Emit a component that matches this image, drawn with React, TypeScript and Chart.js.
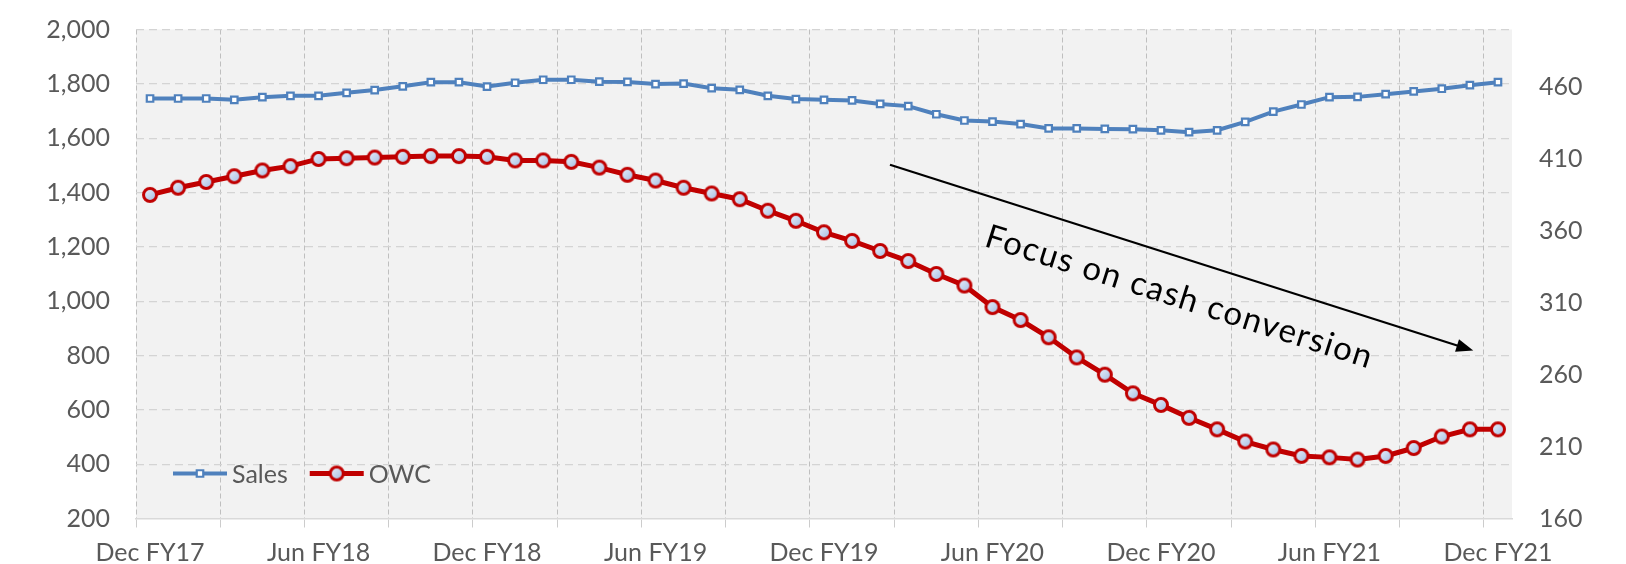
import { useEffect, useRef } from "react";
import { Chart, registerables } from "chart.js";

Chart.register(...registerables);

// Monthly periods, Dec FY17 through Dec FY21
const categories = [
  "Dec FY17",
  "Jan FY18", "Feb FY18", "Mar FY18", "Apr FY18", "May FY18", "Jun FY18",
  "Jul FY18", "Aug FY18", "Sep FY18", "Oct FY18", "Nov FY18", "Dec FY18",
  "Jan FY19", "Feb FY19", "Mar FY19", "Apr FY19", "May FY19", "Jun FY19",
  "Jul FY19", "Aug FY19", "Sep FY19", "Oct FY19", "Nov FY19", "Dec FY19",
  "Jan FY20", "Feb FY20", "Mar FY20", "Apr FY20", "May FY20", "Jun FY20",
  "Jul FY20", "Aug FY20", "Sep FY20", "Oct FY20", "Nov FY20", "Dec FY20",
  "Jan FY21", "Feb FY21", "Mar FY21", "Apr FY21", "May FY21", "Jun FY21",
  "Jul FY21", "Aug FY21", "Sep FY21", "Oct FY21", "Nov FY21", "Dec FY21",
];

// Sales (left axis)
const sales = [
  1746, 1746, 1746, 1741, 1751, 1756, 1756, 1767, 1777, 1791,
  1806, 1806, 1790, 1804, 1815, 1815, 1808, 1807, 1799, 1801,
  1784, 1778, 1756, 1744, 1741, 1739, 1726, 1718, 1688, 1665,
  1661, 1652, 1636, 1636, 1634, 1633, 1629, 1622, 1629, 1660,
  1698, 1724, 1751, 1752, 1762, 1772, 1782, 1795, 1806,
];

// Operating working capital (right axis)
const owc = [
  385, 390, 394, 398, 402, 405, 410, 410.5, 411, 411.5,
  412, 412, 411.5, 409, 409, 408, 404, 399, 395, 390,
  386, 382, 374, 367, 359, 353, 346, 339, 330, 322,
  307, 298, 286, 272, 260, 247, 239, 230, 222, 213.5,
  208, 203.5, 202.5, 201, 203.5, 209, 217, 222, 222,
];

const leftTicks = [200, 400, 600, 800, 1000, 1200, 1400, 1600, 1800, 2000];
const rightTicks = [160, 210, 260, 310, 360, 410, 460];

// Trend arrow: [category index, left-axis value]
const arrowFrom = [26.35, 1502];
const arrowTo = [47.12, 818];
const arrowLabel = "Focus on cash conversion";
const arrowLabelAt = [36.66, 1015];

const FONT = "Lato, 'Open Sans', sans-serif";
const TEXT = "#595959";
const BLUE = "#4F81BD";
const RED = "#C00000";

function makeOwcMarker(): HTMLCanvasElement {
  const c = document.createElement("canvas");
  c.width = 18;
  c.height = 18;
  const g = c.getContext("2d")!;
  const grad = g.createLinearGradient(3, 3, 15, 15);
  grad.addColorStop(0, "#EAF0FA");
  grad.addColorStop(1, "#A3BEE3");
  g.beginPath();
  g.arc(9, 9, 6.5, 0, Math.PI * 2);
  g.fillStyle = grad;
  g.fill();
  g.lineWidth = 3;
  g.strokeStyle = RED;
  g.stroke();
  return c;
}

const plotBackground = {
  id: "plotBackground",
  beforeDraw(chart: any) {
    const { ctx, chartArea } = chart;
    ctx.save();
    ctx.fillStyle = "#F2F2F2";
    ctx.fillRect(chartArea.left, chartArea.top, chartArea.width, chartArea.height);
    ctx.restore();
  },
};

const trendArrow = {
  id: "trendArrow",
  afterDatasetsDraw(chart: any) {
    const { ctx } = chart;
    const xs = chart.scales.x;
    const ys = chart.scales.y;
    const x1 = xs.getPixelForValue(arrowFrom[0]);
    const y1 = ys.getPixelForValue(arrowFrom[1]);
    const x2 = xs.getPixelForValue(arrowTo[0]);
    const y2 = ys.getPixelForValue(arrowTo[1]);
    const ang = Math.atan2(y2 - y1, x2 - x1);
    const head = 17;
    const half = 6.5;
    ctx.save();
    ctx.strokeStyle = "#000";
    ctx.fillStyle = "#000";
    ctx.lineWidth = 2.25;
    ctx.beginPath();
    ctx.moveTo(x1, y1);
    ctx.lineTo(x2 - Math.cos(ang) * head * 0.8, y2 - Math.sin(ang) * head * 0.8);
    ctx.stroke();
    ctx.beginPath();
    ctx.moveTo(x2, y2);
    const bx = x2 - Math.cos(ang) * head;
    const by = y2 - Math.sin(ang) * head;
    ctx.lineTo(bx + Math.sin(ang) * half, by - Math.cos(ang) * half);
    ctx.lineTo(bx - Math.sin(ang) * half, by + Math.cos(ang) * half);
    ctx.closePath();
    ctx.fill();

    const tx = xs.getPixelForValue(arrowLabelAt[0]);
    const ty = ys.getPixelForValue(arrowLabelAt[1]);
    ctx.translate(tx, ty);
    ctx.rotate(ang);
    ctx.font = `33px ${FONT}`;
    (ctx as any).letterSpacing = "1.5px";
    ctx.textAlign = "center";
    ctx.textBaseline = "middle";
    ctx.fillText(arrowLabel, 0, 0);
    ctx.restore();
  },
};

const insideLegend = {
  id: "insideLegend",
  afterDraw(chart: any) {
    const { ctx, chartArea } = chart;
    const y = chartArea.bottom - 45;
    let x = chartArea.left + 37;
    ctx.save();
    ctx.font = `25px ${FONT}`;
    ctx.textBaseline = "middle";
    ctx.textAlign = "left";
    for (const ds of chart.data.datasets as any[]) {
      const lineLen = 54;
      ctx.strokeStyle = ds.borderColor;
      ctx.lineWidth = ds.borderWidth;
      ctx.beginPath();
      ctx.moveTo(x, y);
      ctx.lineTo(x + lineLen, y);
      ctx.stroke();
      const cx = x + lineLen / 2;
      if (typeof ds.pointStyle === "object") {
        const img = ds.pointStyle as HTMLCanvasElement;
        ctx.drawImage(img, cx - img.width / 2, y - img.height / 2);
      } else {
        const s = ds.pointRadius * Math.SQRT1_2;
        ctx.fillStyle = ds.pointBackgroundColor;
        ctx.strokeStyle = ds.pointBorderColor;
        ctx.lineWidth = ds.pointBorderWidth;
        ctx.beginPath();
        ctx.rect(cx - s, y - s, 2 * s, 2 * s);
        ctx.fill();
        ctx.stroke();
      }
      ctx.fillStyle = TEXT;
      ctx.fillText(ds.label, x + lineLen + 5, y + 1);
      x += lineLen + 5 + ctx.measureText(ds.label).width + 22;
    }
    ctx.restore();
  },
};

// Fixed axis box sizes so the plot area sits where the layout wants it
const fixWidth = (w: number) => (s: any) => {
  s.width = w;
  s.paddingTop = 0;
  s.paddingBottom = 0;
};

export default function App() {
  const canvasRef = useRef<HTMLCanvasElement | null>(null);

  useEffect(() => {
    if (!canvasRef.current) return;
    const marker = makeOwcMarker();
    const chart = new Chart(canvasRef.current, {
      type: "line",
      data: {
        labels: categories,
        datasets: [
          {
            label: "Sales",
            data: sales,
            yAxisID: "y",
            borderColor: BLUE,
            borderWidth: 4,
            tension: 0,
            pointStyle: "rect",
            pointRadius: 4.6,
            pointBorderWidth: 2.2,
            pointBackgroundColor: "#FFFFFF",
            pointBorderColor: BLUE,
          },
          {
            label: "OWC",
            data: owc,
            yAxisID: "y1",
            borderColor: RED,
            borderWidth: 5,
            tension: 0,
            pointStyle: marker as any,
            pointRadius: 8,
            pointBorderWidth: 0,
          },
        ],
      },
      options: {
        responsive: false,
        animation: false,
        events: [],
        layout: { padding: { top: 29.5, left: 0, right: 0, bottom: 0 } },
        plugins: { legend: { display: false }, tooltip: { enabled: false } },
        scales: {
          x: {
            type: "category",
            offset: true,
            grid: {
              offset: true,
              lineWidth: 1,
              tickLength: 9,
              color: (c: any) => (c.index % 3 === 0 ? "#BFBFBF" : "rgba(0,0,0,0)"),
              tickColor: (c: any) => (c.index % 3 === 0 ? "#CCCCCC" : "rgba(0,0,0,0)"),
              tickBorderDash: [],
            },
            border: { display: true, color: "#D9D9D9", width: 1.5, dash: [5, 3] },
            ticks: {
              autoSkip: false,
              maxRotation: 0,
              minRotation: 0,
              padding: 10,
              color: TEXT,
              font: { family: FONT, size: 25 },
              callback: (_v: any, i: number) => (i % 6 === 0 ? categories[i] : ""),
            },
            afterFit: (s: any) => {
              s.height = 45.5;
              s.paddingLeft = 0;
              s.paddingRight = 0;
            },
          },
          y: {
            position: "left",
            min: leftTicks[0],
            max: leftTicks[leftTicks.length - 1],
            grid: {
              drawTicks: false,
              lineWidth: 1.25,
              color: (c: any) =>
                c.tick && c.tick.value === leftTicks[0] ? "rgba(0,0,0,0)" : "#D4D4D4",
            },
            border: { display: false, dash: [8, 5] },
            ticks: {
              stepSize: 200,
              padding: 26,
              color: TEXT,
              font: { family: FONT, size: 25 },
              callback: (v: any) => Number(v).toLocaleString("en-US"),
            },
            afterBuildTicks: (s: any) => {
              s.ticks = leftTicks.map((v) => ({ value: v }));
            },
            afterFit: fixWidth(136),
          },
          y1: {
            position: "right",
            min: 160,
            max: 500,
            grid: { display: false, drawTicks: false },
            border: { display: false },
            ticks: {
              padding: 27,
              color: TEXT,
              font: { family: FONT, size: 25 },
            },
            afterBuildTicks: (s: any) => {
              s.ticks = rightTicks.map((v) => ({ value: v }));
            },
            afterFit: fixWidth(114),
          },
        },
      },
      plugins: [plotBackground, trendArrow, insideLegend],
    });
    return () => chart.destroy();
  }, []);

  return (
    <div style={{ position: "fixed", left: 0, top: 0, width: 1626, height: 564, background: "#FFFFFF" }}>
      <canvas ref={canvasRef} width={1626} height={564} style={{ display: "block" }} />
    </div>
  );
}
